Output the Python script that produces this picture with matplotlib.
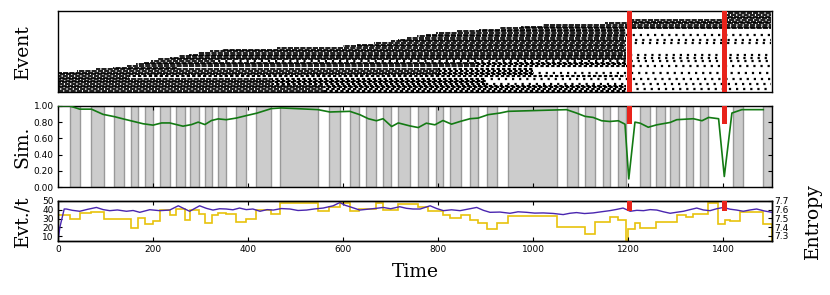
import numpy as np
import matplotlib
matplotlib.use("Agg")
import matplotlib.pyplot as plt
from matplotlib.ticker import FormatStrFormatter

# ---- event raster (rows = event ids, bottom = oldest) ----
event_rows = np.arange(48)
first_seen = [0] * 12 + [40, 80, 115, 145, 165, 180, 195, 210, 235, 255,
                         275, 295, 320, 345, 460, 600, 630, 665, 700, 715,
                         735, 755, 775, 795, 840, 885, 930, 975, 1020, 1150,
                         1205, 1205, 1400, 1400, 1400, 1400]
dense_until = ([560] * 4 + [450] * 4 + [150] * 2 + [800] * 4 + [250] +
               [880] * 3 + [330] + [1195] * 19 + [1500] * 10)
mid_until = ([1195] * 4 + [900] * 4 + [150, 1195] + [1000] * 4 + [250] +
             [1195] * 3 + [330] + [1195] * 19 + [1500] * 10)
sparse_rows = [1, 4, 7, 11, 15, 18, 20, 22, 29, 31, 34]
sparse_end = 1500

# ---- similarity ----
sim_t = [0, 24.6, 45.7, 70.3, 94.6, 119, 137, 158, 179, 200, 218, 235, 249, 263,
         281, 295, 309, 323, 337, 354, 375, 396, 418, 449, 470, 547, 572, 614,
         635, 653, 670, 684, 702, 716, 740, 758, 775, 793, 810, 828, 846, 867,
         884, 905, 930, 947, 1070, 1091, 1109, 1126, 1144, 1161, 1179, 1193,
         1201, 1214, 1225, 1242, 1260, 1288, 1302, 1337, 1355, 1369, 1390,
         1402, 1418, 1439, 1484]
sim_v = [1.0, 1.0, 0.96, 0.96, 0.896, 0.867, 0.84, 0.81, 0.78, 0.763, 0.79, 0.79,
         0.77, 0.75, 0.77, 0.80, 0.77, 0.82, 0.84, 0.83, 0.85, 0.88, 0.91, 0.967,
         0.975, 0.954, 0.925, 0.933, 0.892, 0.842, 0.817, 0.842, 0.746, 0.79,
         0.754, 0.733, 0.787, 0.767, 0.82, 0.775, 0.808, 0.842, 0.85, 0.892,
         0.912, 0.933, 0.954, 0.912, 0.871, 0.858, 0.817, 0.808, 0.817, 0.775,
         0.10, 0.80, 0.787, 0.737, 0.767, 0.796, 0.83, 0.842, 0.817, 0.858,
         0.842, 0.13, 0.912, 0.954, 0.954]

# gray windows
win_start = [24.6, 70.3, 118, 154.4, 182.5, 215.5, 249, 277.3, 308.9, 337, 375.4,
             416, 466.7, 570.6, 614, 649, 684, 715.8, 758, 795, 825, 866.7, 903,
             947.5, 1070, 1109, 1146, 1179, 1225, 1258.5, 1288, 1321.6, 1351,
             1420, 1483]
win_end = [45.7, 96.2, 138.3, 168.4, 200, 235.2, 266.7, 296.9, 323, 354.4, 396.5,
           449, 547.4, 593, 633.7, 668.8, 699.7, 740, 779, 811, 849, 884.2, 924,
           1049, 1095, 1130, 1161, 1195, 1246, 1277, 1307.6, 1337, 1366.7,
           1441, 1502]

# ---- events per window (steps) ----
evt_edges = [0, 24.6, 45.7, 70.3, 96.2, 118, 154.4, 168.4, 182.5, 200, 215.5,
             235.2, 249, 266.7, 277.3, 296.9, 308.9, 323, 337, 354.4, 375.4,
             396.5, 416, 449, 466.7, 547.4, 570.6, 593, 614, 633.7, 668.8, 684,
             715.8, 758, 779, 811, 825, 849, 866.7, 884.2, 903, 924, 947.5, 1049,
             1109, 1130, 1161, 1179, 1195, 1200, 1214, 1225, 1258.5, 1302,
             1321.6, 1337, 1366.7, 1389, 1403, 1414, 1435, 1483, 1502]
evt_vals = [34, 30, 36, 37, 30, 29, 19, 31, 24, 27, 40, 34.5, 40.5, 28.5, 40, 35,
            25, 34, 36, 35, 26, 29, 40, 35, 48, 39, 43, 48, 39, 41, 48, 39.5,
            46, 43, 38, 34.4, 30.7, 34.4, 28.5, 25, 17.8, 25, 33.3, 20.5, 13, 26,
            32, 28.5, 6, 18, 25, 19, 26, 34, 32, 35, 48, 24, 28.5, 27.7, 37, 24]

# ---- entropy ----
ent_t = [0, 4, 13, 17.6, 30, 45.7, 62, 80.8, 95, 108.9, 125, 144, 158, 172, 193,
         214, 235, 253, 265, 277, 298, 312, 326, 340, 354, 368, 382, 396, 410,
         425, 440, 453, 470, 488, 505, 523, 540, 558, 579, 593, 604, 614, 635,
         656, 670, 684, 700, 719, 733, 747, 762, 783, 797, 811, 828, 846, 863,
         881, 895, 909, 930, 951, 968, 986, 1003, 1021, 1042, 1063, 1077, 1091,
         1108, 1126, 1143, 1161, 1175, 1189, 1204, 1218, 1232, 1246, 1260, 1274,
         1288, 1302, 1316, 1330, 1344, 1358, 1372, 1386, 1400, 1414, 1428, 1442,
         1456, 1470, 1486, 1502]
ent_v = [7.25, 7.40, 7.607, 7.607, 7.592, 7.581, 7.603, 7.625, 7.600, 7.588,
         7.596, 7.581, 7.590, 7.569, 7.599, 7.588, 7.595, 7.644, 7.612, 7.581,
         7.644, 7.615, 7.595, 7.610, 7.607, 7.598, 7.618, 7.600, 7.607, 7.581,
         7.600, 7.595, 7.612, 7.607, 7.590, 7.595, 7.608, 7.618, 7.644, 7.681,
         7.650, 7.633, 7.595, 7.607, 7.615, 7.625, 7.610, 7.633, 7.615, 7.607,
         7.607, 7.644, 7.612, 7.588, 7.598, 7.588, 7.606, 7.625, 7.592, 7.569,
         7.572, 7.558, 7.575, 7.569, 7.560, 7.562, 7.556, 7.543, 7.558, 7.566,
         7.555, 7.562, 7.575, 7.588, 7.602, 7.618, 7.581, 7.592, 7.588, 7.600,
         7.595, 7.575, 7.558, 7.570, 7.581, 7.600, 7.618, 7.596, 7.588, 7.610,
         7.625, 7.605, 7.595, 7.581, 7.596, 7.607, 7.585, 7.569]

alarms = [1202, 1402]

red = '#e8231b'
serif = 'DejaVu Serif'
lab_fs = 13.5
tick_fs = 6.5

fig = plt.figure(figsize=(8.3, 2.95), dpi=100)
L, W = 0.0699, 0.860
ax1 = fig.add_axes([L, 0.688, W, 0.275])
ax2 = fig.add_axes([L, 0.366, W, 0.275])
ax3 = fig.add_axes([L, 0.183, W, 0.136])

# top: raster
for r in event_rows:
    off = (r * 1.7) % 3.6
    ax1.hlines(r, first_seen[r], dense_until[r], colors='k', linewidth=1.25,
               linestyles=(off, (3, 0.6)))
    if mid_until[r] > dense_until[r]:
        ax1.hlines(r, dense_until[r], mid_until[r], colors='k', linewidth=1.5,
                   linestyles=(off, (1.6, 1.0)))
    start_sp = max(dense_until[r], mid_until[r])
    if r in sparse_rows and start_sp < sparse_end:
        ax1.hlines(r, start_sp, sparse_end, colors='k', linewidth=1.6,
                   linestyles=(off, (1, 2.2)))
for a in alarms:
    ax1.axvspan(a - 5, a + 5, color=red, lw=0, zorder=5)
ax1.set_xlim(0, 1502)
ax1.set_ylim(-0.8, 48.5)
ax1.set_xticks([])
ax1.set_yticks([])
ax1.set_ylabel('Event', family=serif, fontsize=lab_fs)

# middle: similarity
for s, e in zip(win_start, win_end):
    ax2.axvspan(s, e, facecolor='#cccccc', edgecolor='#999999', lw=1, zorder=0)
ax2.plot(sim_t, sim_v, color='#137a13', lw=1.2, zorder=3)
for a in alarms:
    ax2.axvspan(a - 5, a + 5, ymin=0.78, ymax=1, color=red, lw=0, zorder=5)
ax2.set_xlim(0, 1502)
ax2.set_ylim(0, 1)
ax2.set_yticks(np.arange(0, 1.01, 0.2))
ax2.yaxis.set_major_formatter(FormatStrFormatter('%.2f'))
ax2.set_xticks(np.arange(0, 1401, 200))
ax2.set_xticklabels([])
ax2.set_ylabel('Sim.', family=serif, fontsize=lab_fs)

# bottom: events / t and entropy
ax3.stairs(evt_vals, evt_edges, color='#e8c20c', lw=1.2)
ax3.set_xlim(0, 1502)
ax3.set_ylim(4.5, 50)
ax3.set_yticks([10, 20, 30, 40, 50])
ax3.set_xticks(np.arange(0, 1401, 200))
ax3.set_ylabel('Evt./t', family=serif, fontsize=lab_fs)
ax3.set_xlabel('Time', family=serif, fontsize=lab_fs)
ax3b = ax3.twinx()
ax3b.plot(ent_t, ent_v, color='#4a26b0', lw=1.0)
for a in alarms:
    ax3b.axvspan(a - 5, a + 5, ymin=0.75, ymax=1, color=red, lw=0, zorder=5)
ax3b.set_ylim(7.24, 7.7)
ax3b.set_yticks([7.3, 7.4, 7.5, 7.6, 7.7])
ax3b.set_ylabel('Entropy', family=serif, fontsize=lab_fs)

for ax in (ax2, ax3):
    ax.tick_params(direction='in', length=3, width=0.8, labelsize=tick_fs,
                   top=True, right=(ax is ax2), pad=3)
ax3b.tick_params(direction='in', length=3, width=0.8, labelsize=tick_fs, pad=2)
for ax in (ax1, ax2, ax3, ax3b):
    for sp in ax.spines.values():
        sp.set_linewidth(1.0)

for ax in (ax1, ax2, ax3):
    ax.yaxis.set_label_coords(-0.037, 0.5)
ax3b.yaxis.set_label_coords(1.045, 0.5)
ax3.xaxis.set_label_coords(0.5, -0.55)

fig.savefig('out.png', dpi=100)
